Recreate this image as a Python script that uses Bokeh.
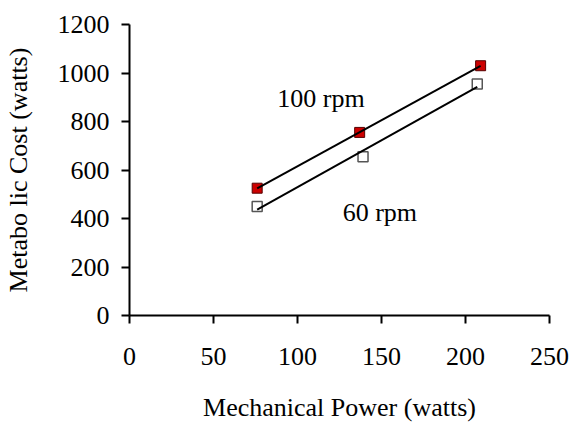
import numpy as np
from bokeh.plotting import figure
from bokeh.models import FixedTicker, Range1d
from bokeh.embed import file_html
from bokeh.resources import INLINE
from bokeh.core.properties import value

# Data
power_100 = [76, 137, 209]
cost_100 = [525, 755, 1030]
power_60 = [76, 139, 207]
cost_60 = [450, 655, 955]
x_ticks = [0, 50, 100, 150, 200, 250]
y_ticks = [0, 200, 400, 600, 800, 1000, 1200]
label_100 = "100 rpm"
label_60 = "60 rpm"
label_100_pos = (114, 895)
label_60_pos = (149, 425)

FONT = "Liberation Serif"
FS = "26px"

p = figure(width=571, height=425, output_backend="svg", toolbar_location=None,
           x_range=Range1d(0, 250), y_range=Range1d(0, 1200),
           min_border_left=129, min_border_right=22, min_border_top=24, min_border_bottom=110)
p.outline_line_color = None
p.xgrid.visible = False
p.ygrid.visible = False
p.background_fill_color = "white"
p.border_fill_color = "white"

for ax in (p.xaxis[0], p.yaxis[0]):
    ax.axis_line_color = "black"
    ax.axis_line_width = 2
    ax.major_tick_line_color = "black"
    ax.major_tick_line_width = 2
    ax.major_tick_in = 0
    ax.major_tick_out = 8
    ax.minor_tick_line_color = None
    ax.major_label_text_font = FONT
    ax.major_label_text_font_size = FS
    ax.major_label_text_color = "black"
    ax.axis_label_text_font = FONT
    ax.axis_label_text_font_size = FS
    ax.axis_label_text_font_style = "normal"
    ax.axis_label_text_color = "black"

p.xaxis[0].ticker = FixedTicker(ticks=x_ticks)
p.yaxis[0].ticker = FixedTicker(ticks=y_ticks)
p.xaxis[0].major_label_standoff = 24
p.yaxis[0].major_label_standoff = 12
p.xaxis[0].axis_label = "Mechanical Power (watts)"
p.yaxis[0].axis_label = "Metabo lic Cost (watts)"
p.xaxis[0].axis_label_standoff = 25
p.yaxis[0].axis_label_standoff = 22

# markers
p.scatter(power_60, cost_60, marker="square", size=10, fill_color="white",
          line_color="#555555", line_width=1.5)
p.scatter(power_100, cost_100, marker="square", size=10, fill_color="#cc0000",
          line_color="#550000", line_width=1)

# linear trendlines
for xs, ys in ((power_100, cost_100), (power_60, cost_60)):
    m, b = np.polyfit(xs, ys, 1)
    lx = [min(xs), max(xs)]
    p.line(lx, [m * v + b for v in lx], line_color="black", line_width=2)

p.text([label_100_pos[0]], [label_100_pos[1]], text=[label_100], text_font=value(FONT),
       text_font_size=FS, text_align="center", text_baseline="middle", text_color="black")
p.text([label_60_pos[0]], [label_60_pos[1]], text=[label_60], text_font=value(FONT),
       text_font_size=FS, text_align="center", text_baseline="middle", text_color="black")

open("out.html", "w").write(file_html(p, INLINE))
